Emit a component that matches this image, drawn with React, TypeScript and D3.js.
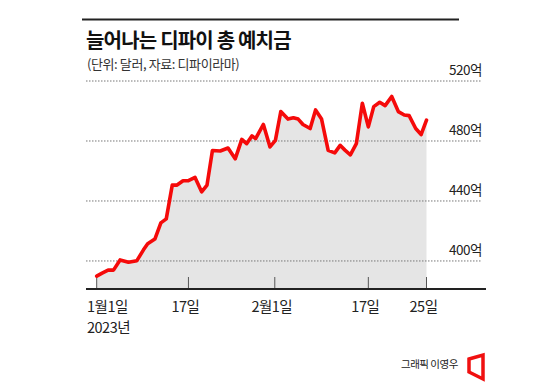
import React from "react";
import * as d3 from "d3";

// Position along the time axis (days since Jan 1, 2023)
const xPos = [0, 0.9, 1.9, 2.8, 3.9, 5.3, 6.7, 7.8, 8.5, 9.7, 10.7, 11.6, 12.6, 13.4, 14.4, 15.3, 16.4, 17.5, 18.4, 19.3, 20.6, 21.9, 23.1, 24.2, 25.0, 25.9, 26.5, 27.8, 28.9, 29.8, 30.7, 31.9, 32.8, 33.6, 34.4, 35.6, 36.5, 37.5, 38.6, 39.7, 40.6, 41.4, 42.3, 43.3, 44.3, 45.3, 46.2, 47.2, 48.1, 49.2, 50.3, 51.3, 52.1, 53.2, 54.1, 55.0];
// Total value locked (억 달러)
const values = [389.9, 391.9, 393.9, 393.9, 400.7, 399.1, 400.2, 407.4, 411.5, 414.6, 425.4, 428.1, 450.6, 450.6, 453.5, 453.5, 455.7, 446.1, 450.6, 473.7, 473.3, 475.3, 468.1, 481.1, 478.2, 483.4, 481.6, 491.0, 476.0, 480.4, 499.6, 494.6, 495.5, 494.6, 491.0, 488.3, 500.7, 494.6, 473.7, 472.1, 477.1, 473.9, 470.8, 478.2, 505.2, 489.4, 502.9, 505.8, 503.6, 509.7, 499.6, 497.3, 496.9, 488.3, 484.3, 493.9];

const xTickPos = [0, 15.3, 29.7, 45.3, 55];
const xTickLabels = ["1월1일", "17일", "2월1일", "17일", "25일"];
const yTicks = [400, 440, 480, 520];
const yTickLabels = ["400억", "440억", "480억", "520억"];

const title = "늘어나는 디파이 총 예치금";
const subtitle = "(단위: 달러, 자료: 디파이라마)";
const yearLabel = "2023년";
const credit = "그래픽 이영우";

const FONT = "'Noto Sans CJK KR', 'Noto Sans', sans-serif";

export default function App() {
  const axisY = 289;
  const x = d3.scaleLinear().domain([0, 55]).range([96.7, 426.5]);
  const y = d3.scaleLinear().domain([381.3, 520]).range([axisY, 81]);

  const pts = xPos.map((d, i) => [d, values[i]] as [number, number]);
  const line = d3
    .line<[number, number]>()
    .x((d) => x(d[0]))
    .y((d) => y(d[1]));
  const area = d3
    .area<[number, number]>()
    .x((d) => x(d[0]))
    .y0(axisY)
    .y1((d) => y(d[1]));

  return (
    <svg
      width={550}
      height={383}
      style={{ position: "absolute", left: 0, top: 0, background: "#fff" }}
      fontFamily={FONT}
    >
      <rect width={550} height={383} fill="#fff" />
      <line x1={82} x2={459} y1={19.5} y2={19.5} stroke="#222" strokeWidth={2} />
      <text x={86} y={48} fontSize={20} fontWeight={700} fill="#111" letterSpacing={-0.8}>
        {title}
      </text>
      <text x={87} y={69} fontSize={13} fill="#333" letterSpacing={-0.4}>
        {subtitle}
      </text>

      <path d={area(pts) || ""} fill="#e5e5e5" />

      {yTicks.map((t, i) => (
        <g key={t}>
          <line
            x1={86}
            x2={482}
            y1={y(t)}
            y2={y(t)}
            stroke="#777"
            strokeWidth={1}
            strokeDasharray="1.5 1.5"
          />
          <text
            x={482}
            y={y(t) - 6}
            fontSize={13.5}
            fill="#222"
            textAnchor="end"
            letterSpacing={-0.5}
          >
            {yTickLabels[i]}
          </text>
        </g>
      ))}

      {xTickPos.map((t, i) => (
        <line key={i} x1={x(t)} x2={x(t)} y1={axisY - 12} y2={axisY} stroke="#555" strokeWidth={1} />
      ))}

      <path
        d={line(pts) || ""}
        fill="none"
        stroke="#f50a0a"
        strokeWidth={3.6}
        strokeLinejoin="round"
        strokeLinecap="round"
      />

      <line x1={86} x2={486} y1={axisY} y2={axisY} stroke="#222" strokeWidth={2} />

      {xTickPos.map((t, i) => (
        <text
          key={i}
          x={i === 0 ? 87 : x(t) - 3}
          y={312}
          fontSize={14.5}
          fill="#222"
          textAnchor={i === 0 ? "start" : "middle"}
          letterSpacing={-0.5}
        >
          {xTickLabels[i]}
        </text>
      ))}
      <text x={87} y={333} fontSize={14.5} fill="#222" letterSpacing={-0.5}>
        {yearLabel}
      </text>

      <text x={401} y={368} fontSize={10.5} fill="#222" letterSpacing={-0.5}>
        {credit}
      </text>
      <polygon
        points="469,359 483,355 483,379 469,372"
        fill="none"
        stroke="#f01010"
        strokeWidth={3.5}
        strokeLinejoin="miter"
      />
    </svg>
  );
}
